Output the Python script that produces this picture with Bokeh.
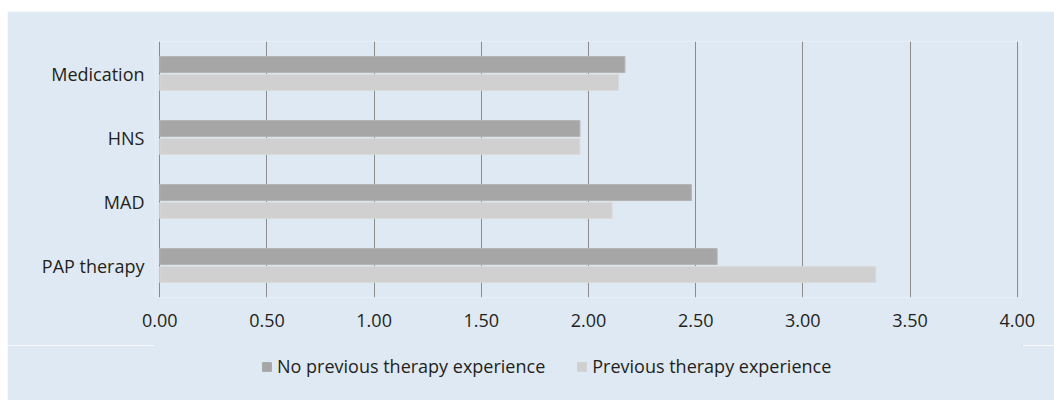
from bokeh.plotting import figure
from bokeh.layouts import column
from bokeh.models import ColumnDataSource, FactorRange, Range1d, FixedTicker, NumeralTickFormatter, Legend, LegendItem
from bokeh.transform import dodge
from bokeh.embed import file_html
from bokeh.resources import INLINE

categories = ["Medication", "HNS", "MAD", "PAP therapy"]
no_previous = [2.17, 1.96, 2.48, 2.60]
previous = [2.14, 1.96, 2.11, 3.34]
x_ticks = [0.0, 0.5, 1.0, 1.5, 2.0, 2.5, 3.0, 3.5, 4.0]
series_names = ["No previous therapy experience", "Previous therapy experience"]

BG = "#dfe9f3"
TXT = "#231f20"
FONT = "Open Sans"
FS = "18px"
DARK = "#a6a6a6"
LIGHT = "#d0d0d0"

src = ColumnDataSource(dict(cat=categories, nop=no_previous, prev=previous))

p = figure(width=1047, height=334, output_backend="svg", toolbar_location=None,
           y_range=FactorRange(*categories[::-1], range_padding=0),
           x_range=Range1d(-0.02, 4.02),
           min_border_left=148, min_border_right=33, min_border_top=30, min_border_bottom=48)
p.background_fill_color = BG
p.border_fill_color = BG
p.outline_line_color = None

r1 = p.hbar(y=dodge("cat", 0.14, range=p.y_range), right="nop", left=0, height=0.25, source=src,
            fill_color=DARK, line_color="#b4b4b4", line_width=1)
r2 = p.hbar(y=dodge("cat", -0.14, range=p.y_range), right="prev", left=0, height=0.25, source=src,
            fill_color=LIGHT, line_color="#dadada", line_width=1)

p.xaxis.ticker = FixedTicker(ticks=x_ticks)
p.xaxis.formatter = NumeralTickFormatter(format="0.00")
p.xgrid.ticker = FixedTicker(ticks=x_ticks)
p.xgrid.grid_line_color = "#8c8c8c"
p.xgrid.grid_line_width = 1
p.ygrid.grid_line_color = None

for ax in (p.xaxis, p.yaxis):
    ax.axis_line_color = None
    ax.major_tick_line_color = None
    ax.minor_tick_line_color = None
    ax.major_label_text_font = FONT
    ax.major_label_text_font_size = FS
    ax.major_label_text_color = TXT
p.xaxis.major_label_standoff = 10
p.yaxis.major_label_standoff = 5

# legend strip below the chart (its swatch renderers lie outside its view)
p2 = figure(width=1047, height=55, output_backend="svg", toolbar_location=None,
            x_range=Range1d(0, 1), y_range=Range1d(0, 1),
            x_axis_location=None, y_axis_location=None,
            min_border=0, min_border_left=148, min_border_right=33, min_border_top=0, min_border_bottom=0)
p2.background_fill_color = BG
p2.border_fill_color = BG
p2.outline_line_color = BG
p2.outline_line_width = 3
p2.grid.visible = False

k1 = p2.hbar(y="nop", left="nop", right="nop", height=0.25, source=src,
             fill_color=DARK, line_color=DARK)
k2 = p2.hbar(y="prev", left="prev", right="prev", height=0.25, source=src,
             fill_color=LIGHT, line_color=LIGHT)

legend = Legend(items=[LegendItem(label=series_names[0], renderers=[k1]),
                       LegendItem(label=series_names[1], renderers=[k2])],
                orientation="horizontal", location=(106, 22),
                background_fill_alpha=0, border_line_color=None,
                glyph_width=11, glyph_height=11, label_standoff=5, spacing=31,
                padding=0, margin=0,
                label_text_font=FONT, label_text_font_size=FS, label_text_color=TXT)
p2.add_layout(legend, "center")

layout = column(p, p2, spacing=0, margin=(11, 0, 0, 7))
open("out.html", "w").write(file_html(layout, INLINE))
